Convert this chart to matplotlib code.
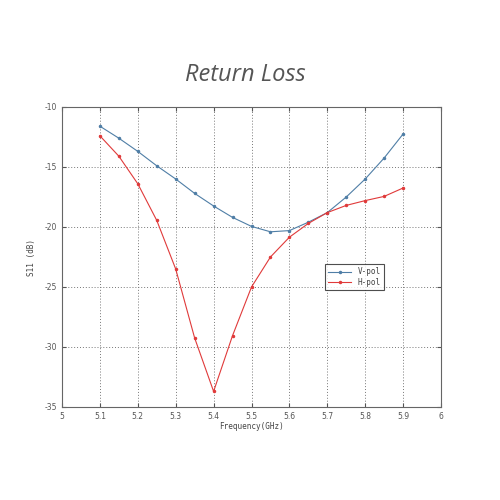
import numpy as np
import matplotlib
matplotlib.use('Agg')
import matplotlib.pyplot as plt

# Datos
freq = [5.1, 5.15, 5.2, 5.25, 5.3, 5.35, 5.4, 5.45, 5.5, 5.55, 5.6, 5.65, 5.7, 5.75, 5.8, 5.85, 5.9]
v_pol = [-11.6, -12.6, -13.7, -14.9, -16.0, -17.2, -18.25, -19.2, -19.95, -20.4, -20.3, -19.6, -18.8, -17.5, -16.0, -14.25, -12.25]
h_pol = [-12.4, -14.1, -16.4, -19.45, -23.5, -29.25, -33.7, -29.05, -25.0, -22.5, -20.85, -19.7, -18.8, -18.2, -17.8, -17.45, -16.75]

xticks = [5, 5.1, 5.2, 5.3, 5.4, 5.5, 5.6, 5.7, 5.8, 5.9, 6]
xticklabels = ['5', '5.1', '5.2', '5.3', '5.4', '5.5', '5.6', '5.7', '5.8', '5.9', '6']
yticks = [-35, -30, -25, -20, -15, -10]

plt.rcParams['axes.unicode_minus'] = False

fig = plt.figure(figsize=(5, 5), dpi=100)
fig.patch.set_facecolor('white')
ax = fig.add_axes([0.124, 0.186, 0.758, 0.6])

ax.plot(freq, v_pol, color='#4f7ea6', lw=0.8, marker='.', ms=3, label='V-pol')
ax.plot(freq, h_pol, color='#e03a3a', lw=0.8, marker='.', ms=3, label='H-pol')

ax.set_xlim(5, 6)
ax.set_ylim(-35, -10)
ax.set_xticks(xticks)
ax.set_xticklabels(xticklabels)
ax.set_yticks(yticks)
ax.grid(True, color='#777777', linestyle=(0, (1, 2)), lw=0.7)
ax.tick_params(direction='in', top=True, right=True, labelsize=5.5, colors='#555555', length=3)
for s in ax.spines.values():
    s.set_color('#666666')
    s.set_linewidth(0.8)

ax.set_xlabel('Frequency(GHz)', fontsize=5.5, color='#444444', family='DejaVu Sans Mono', labelpad=1)
ax.set_ylabel('S11 (dB)', fontsize=5.5, color='#444444', family='DejaVu Sans Mono', labelpad=6)

leg = ax.legend(loc='lower left', bbox_to_anchor=(0.695, 0.39), fontsize=5.5, frameon=True,
                fancybox=False, borderpad=0.4, handlelength=3, labelspacing=0.2, borderaxespad=0)
leg.get_frame().set_edgecolor('#222222')
leg.get_frame().set_linewidth(0.8)
for t in leg.get_texts():
    t.set_color('#444444')
    t.set_family('DejaVu Sans Mono')

fig.text(0.49, 0.85, 'Return Loss', fontsize=17, style='italic', color='#555555',
         family='Open Sans', ha='center', va='center')

fig.savefig('out.png', dpi=100)
